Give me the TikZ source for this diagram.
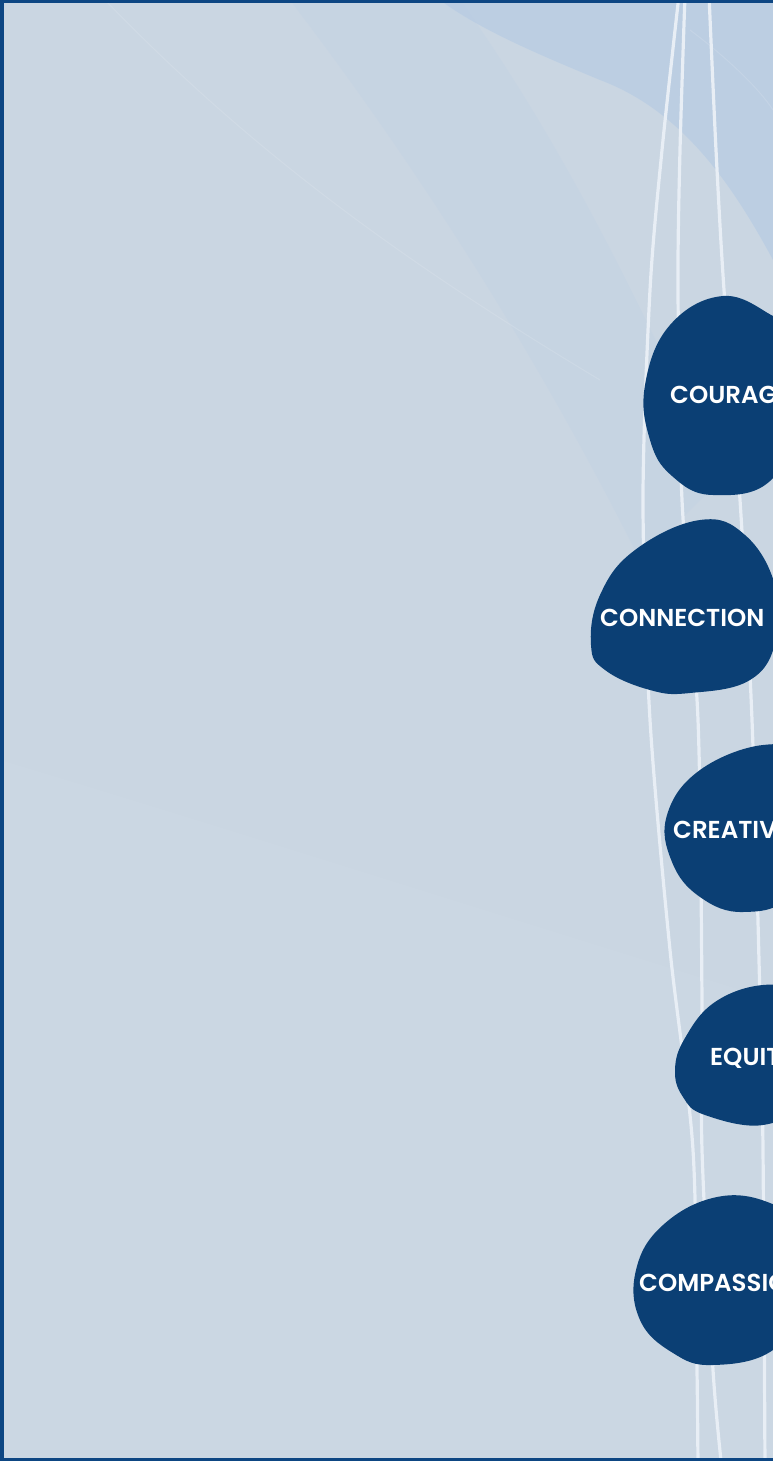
\documentclass[tikz,border=0pt]{standalone}
\usepackage{fontspec}
\setmainfont{Poppins}
\newfontfamily\popsb{Poppins SemiBold}
\definecolor{bg}{HTML}{CAD6E2}
\definecolor{bgdark}{HTML}{B9CDE2}
\definecolor{bglight}{HTML}{D0DBE6}
\definecolor{blobc}{HTML}{0B3F74}
\definecolor{framec}{HTML}{0D4683}
\definecolor{stringc}{HTML}{E8EEF5}
\tikzset{
  stringline/.style={draw=stringc, line width=3.2pt, line cap=round},
  blobshape/.style={fill=blobc},
  lbl/.style={text=white, font=\popsb\fontsize{24.5}{24.5}\selectfont, inner sep=0pt, anchor=west},
  faint/.style={draw=white, opacity=0.12, line width=1pt}
}
\begin{document}
\begin{tikzpicture}[x=1pt,y=-1pt]
\useasboundingbox (0,0) rectangle (773,1461);
\clip (0,0) rectangle (773,1461);
% background
\fill[bg] (0,0) rectangle (773,1461);
\fill[bgdark, opacity=0.8] (440,0) -- (773,0) -- (773,260) .. controls (730,180) and (680,110) .. (600,80) .. controls (540,55) and (480,30) .. (440,0) -- cycle;
\fill[bgdark, opacity=0.22] (290,0) -- (460,0) .. controls (560,140) and (640,300) .. (720,480) -- (640,560) .. controls (540,360) and (420,170) .. (290,0) -- cycle;
\fill[bglight, opacity=0.3] (0,760) .. controls (200,820) and (450,900) .. (773,1000) -- (773,1461) -- (0,1461) -- cycle;
\draw[faint] (105,0) .. controls (250,150) and (400,260) .. (600,380);
\draw[faint] (690,30) .. controls (730,60) and (760,90) .. (773,110);
% strings
\draw[stringline] plot[smooth] coordinates {(679,-5) (662,150) (650,290) (643,500) (650,720) (670,950) (693,1150) (697,1370) (698,1470)};
\draw[stringline] plot[smooth] coordinates {(685,-5) (680,150) (678,290) (682,500) (698,720) (702,1000) (702,1150) (713,1370) (722,1470)};
\draw[stringline] plot[smooth] coordinates {(709,-5) (716,150) (724,290) (740,500) (752,720) (760,1000) (763,1150) (765,1470)};
% blobs
\fill[blobshape] plot[smooth cycle, tension=0.7] coordinates {(723,296) (670,325) (645,385) (650,440) (672,476) (713,495) (773,478) (800,400) (790,330) (773,316)};
\fill[blobshape] plot[smooth cycle, tension=0.7] coordinates {(700,520) (635,550) (600,595) (591,645) (605,670) (650,690) (690,693) (750,680) (776,640) (775,585) (745,535)};
\fill[blobshape] plot[smooth cycle, tension=0.7] coordinates {(763,745) (700,770) (667,815) (672,862) (700,897) (743,912) (790,895) (810,830) (795,760)};
\fill[blobshape] plot[smooth cycle, tension=0.7] coordinates {(763,985) (715,1002) (685,1038) (675,1070) (683,1097) (705,1115) (763,1125) (800,1100) (810,1040) (795,995)};
\fill[blobshape] plot[smooth cycle, tension=0.7] coordinates {(717,1197) (663,1225) (636,1270) (640,1320) (673,1353) (713,1365) (773,1350) (805,1300) (800,1230) (770,1203)};
% labels
\node[lbl] (courage) at (670,395) {COURAGE};
\node[lbl] (connection) at (600,618) {CONNECTION};
\node[lbl] (creativity) at (673,830) {CREATIVITY};
\node[lbl] (equity) at (710,1058) {EQUITY};
\node[lbl] (compassion) at (639,1283) {COMPASSION};
% frame
\draw[framec, line width=3.5pt] (780,1.75) -- (1.75,1.75) -- (1.75,1459.25) -- (780,1459.25);
\end{tikzpicture}
\end{document}
